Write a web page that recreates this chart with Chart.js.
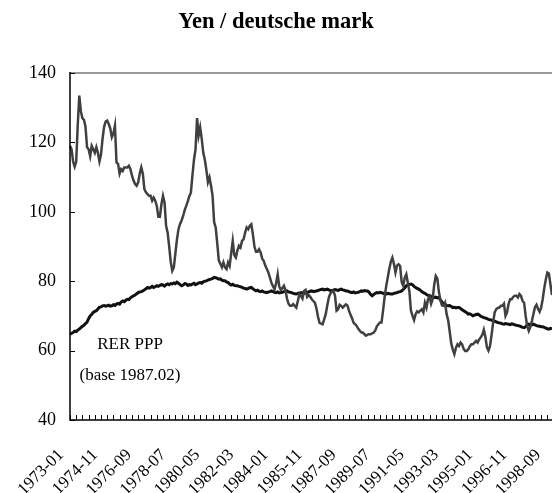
<!DOCTYPE html>
<html>
<head>
<meta charset="utf-8">
<script src="https://cdn.jsdelivr.net/npm/chart.js@4/dist/chart.umd.min.js"></script>
<style>
  html, body { margin: 0; padding: 0; background: #fff; }
  #wrap { width: 552px; height: 493px; }
</style>
</head>
<body>
<div id="wrap"><canvas id="chart" width="552" height="493"></canvas></div>
<script>
// Monthly data, 1973-01 .. 1998-12
const startYear = 1973;
const monthCount = 312;

// Tick labels shown every 22 months
const labelEvery = 22;
const tickEvery = 4;
const yTicks = [40, 60, 80, 100, 120, 140];

// Real exchange rate, yen / deutsche mark
const rerValues = [
  119, 118, 114.5, 113, 114.5, 125, 133.5, 129, 127, 126.5, 124.5, 118.6,
  118, 116, 119, 118, 117, 118.6, 117, 114.5, 116.5, 121, 124.5, 126,
  126.3, 125.3, 124, 121.5, 122.5, 124.8, 114.2, 113.8, 111, 112.3, 111.8, 112.8,
  112.8, 112.8, 113.3, 112.3, 110.4, 109, 108, 107.5, 108.5, 111, 112.8, 111,
  106.5, 105.6, 105.1, 104.6, 104.6, 103.2, 104.1, 103.2, 101.7, 98.6, 98.6, 102.2,
  104.6, 102.7, 96, 94, 90, 85.5, 83, 84, 88, 92, 95, 96.5,
  97.5, 98.8, 100.5, 101.7, 103, 104.5, 105.5, 110.5, 115, 118, 127, 122,
  124.3, 121, 117, 115, 112, 108.5, 109.9, 107.5, 104.5, 97, 95.5, 91,
  86, 85, 84, 85.4, 84, 83.5, 85.4, 84.4, 88, 91.6, 87.5, 86.8,
  88.8, 90.2, 89.7, 91.6, 92.1, 94, 95.5, 95, 96, 96.4, 93.5, 90,
  88.5, 88.5, 89.2, 88.3, 86.5, 85.9, 84.5, 83.5, 82.5, 81, 79.5, 78.5,
  77.7, 79.5, 82, 78.5, 77.5, 78, 78.7, 77.5, 75, 73.5, 72.9, 72.9,
  73.4, 72.9, 72.4, 74.3, 76.3, 75.8, 75, 77.2, 77.5, 75.5, 76, 75.5,
  74.8, 74.3, 73.8, 72.2, 69.8, 68, 67.8, 67.6, 69, 70.5, 73, 75.3,
  76.5, 77, 77.2, 75.8, 71.5, 71.9, 73.2, 72.9, 72.4, 72.9, 73.3, 73,
  71.5, 70.3, 69.3, 68, 67.6, 67.1, 66.3, 65.7, 65.2, 65.2, 64.7, 64.3,
  64.6, 64.7, 64.7, 65, 65.2, 65.8, 67, 67.6, 68.1, 68.1, 71.5, 75.5,
  78.5, 81, 83.5, 85.6, 86.8, 85, 82.5, 84.5, 84.9, 84.4, 79.8, 78.7,
  81, 82, 79.5, 77, 71.5, 70, 68.8, 70.5, 71.3, 71, 71.5, 71.9,
  71, 73.8, 72.4, 74.8, 75.6, 73.5, 74.8, 79, 81.5, 80.8, 77, 74.5,
  73, 72.9, 73.8, 70.5, 68.8, 65.5, 62, 60.3, 59, 60.8, 61.8, 61.3,
  62.3, 61.8, 60.5, 59.9, 59.9, 60.4, 61.3, 61.8, 61.8, 62.3, 62.8, 62.3,
  63.2, 63.8, 64.5, 66, 64, 61, 60, 61.3, 64.5, 68, 71, 71.9,
  72.3, 72.4, 72.9, 72.9, 73.5, 70, 71, 73.5, 74.8, 74.8, 75.5, 75.8,
  75.8, 75.3, 76.3, 75.8, 74.3, 73.8, 70, 67, 65.7, 66.8, 68.5, 70.5,
  72.5, 73.2, 72, 71.2, 72.4, 74.8, 78, 80.5, 82.5, 82.2, 79, 76
];

// PPP rate (base 1987.02)
const pppValues = [
  64.7, 65.0, 65.2, 65.6, 65.5, 65.9, 66.2, 66.6, 67.0, 67.3, 67.8, 68.2,
  69.2, 70.0, 70.4, 71.0, 71.3, 71.5, 72.0, 72.5, 72.6, 72.9, 73.0, 72.8,
  72.9, 73.1, 72.8, 72.9, 73.2, 73.0, 73.4, 73.6, 73.4, 74.0, 74.3, 74.1,
  74.5, 74.8, 74.7, 75.2, 75.5, 75.8, 76.0, 76.4, 76.7, 76.9, 77.0, 77.2,
  77.5, 77.8, 78.2, 78.0, 78.2, 78.5, 78.2, 78.4, 78.7, 78.5, 78.8, 79.0,
  78.9, 78.6, 79.0, 79.2, 79.0, 79.3, 79.2, 79.5, 79.3, 79.7, 79.4, 79.0,
  78.7, 78.9, 79.3, 79.2, 78.8, 79.0, 78.9, 79.2, 79.4, 79.0, 79.2, 79.5,
  79.6, 79.4, 79.8, 80.0, 80.1, 80.3, 80.5, 80.6, 80.8, 81.1, 81.0, 80.8,
  80.6, 80.7, 80.3, 80.1, 80.1, 79.8, 79.6, 79.2, 78.9, 79.1, 78.8, 78.7,
  78.7, 78.5, 78.4, 78.2, 78.0, 77.9, 77.7, 77.9, 78.1, 78.2, 77.8, 77.5,
  77.2, 77.4, 77.1, 77.0, 77.2, 76.9, 76.8, 76.7, 76.9, 77.0, 77.2, 77.0,
  76.8, 76.7, 76.9, 76.6, 76.7, 76.8, 77.0, 77.1, 77.2, 76.9, 76.8, 76.7,
  76.5, 76.4, 76.3, 76.5, 76.6, 76.7, 76.7, 76.5, 76.8, 76.7, 76.9, 77.1,
  77.2, 77.0, 77.1, 77.2, 77.3, 77.5, 77.6, 77.7, 77.5, 77.6, 77.7, 77.5,
  77.3, 77.2, 77.4, 77.6, 77.5, 77.3, 77.6, 77.7, 77.5, 77.4, 77.2, 77.2,
  77.0, 76.8, 76.7, 76.9, 76.6, 76.7, 76.8, 77.0, 77.2, 77.1, 77.3, 77.2,
  77.2, 76.8, 76.2, 75.8, 76.2, 76.5, 76.7, 76.6, 76.8, 76.7, 76.5, 76.6,
  76.3, 76.5, 76.4, 76.3, 76.3, 76.5, 76.6, 76.7, 76.9, 77.0, 77.2, 77.6,
  78.1, 78.7, 78.9, 79.1, 79.2, 79.0, 78.5, 78.2, 77.9, 77.7, 77.4, 77.0,
  76.7, 76.5, 76.2, 75.9, 75.8, 75.6, 75.4, 75.3, 75.4, 75.2, 75.3, 74.6,
  74.0, 73.4, 73.3, 73.0, 72.9, 73.0, 72.7, 72.4, 72.5, 72.3, 72.4, 72.4,
  72.1, 71.8, 71.5, 71.2, 70.9, 70.5, 70.6, 70.3, 70.0, 70.2, 70.4, 70.5,
  70.3, 69.9, 69.7, 69.5, 69.4, 69.2, 69.0, 68.9, 68.8, 68.6, 68.5, 68.3,
  68.1, 68.0, 67.9, 67.7, 67.6, 67.8, 67.7, 67.6, 67.5, 67.7, 67.6, 67.4,
  67.3, 67.2, 67.1, 66.9, 66.7, 66.6, 66.9, 67.3, 67.6, 67.5, 67.4, 67.6,
  67.4, 67.2, 67.1, 67.0, 66.9, 66.9, 66.7, 66.5, 66.3, 66.2, 66.4, 66.3
];

// Build 'YYYY-MM' category labels
const categories = [];
for (let i = 0; i < monthCount; i++) {
    const y = startYear + Math.floor(i / 12);
    const m = (i % 12) + 1;
    categories.push(`${y}-${m < 10 ? '0' + m : m}`);
}

const serif = '"Liberation Serif", "DejaVu Serif", serif';

// Draws the axis lines, inward tick marks, top border and the note text
const axesPlugin = {
    id: 'axesPlugin',
    afterDatasetsDraw(chart) {
        const ctx = chart.ctx;
        const area = chart.chartArea;
        const xs = chart.scales.x;
        const ys = chart.scales.y;
        ctx.save();

        // gray top border
        ctx.strokeStyle = '#999';
        ctx.lineWidth = 2;
        ctx.beginPath();
        ctx.moveTo(area.left, area.top);
        ctx.lineTo(area.right + 2, area.top);
        ctx.stroke();

        ctx.strokeStyle = '#000';
        ctx.lineWidth = 1.5;
        ctx.beginPath();
        ctx.moveTo(area.left, area.top - 1);
        ctx.lineTo(area.left, area.bottom);
        ctx.lineTo(area.right + 2, area.bottom);
        ctx.stroke();

        ctx.lineWidth = 1;
        ctx.beginPath();
        yTicks.forEach(v => {
            const py = Math.round(ys.getPixelForValue(v)) + 0.5;
            ctx.moveTo(area.left, py);
            ctx.lineTo(area.left + 5, py);
        });
        for (let i = 0; i < monthCount; i += tickEvery) {
            const px = Math.round(xs.getPixelForValue(i)) + 0.5;
            ctx.moveTo(px, area.bottom);
            ctx.lineTo(px, area.bottom - 5);
        }
        ctx.stroke();

        // note
        ctx.fillStyle = '#000';
        ctx.font = '17px ' + serif;
        ctx.textAlign = 'center';
        ctx.textBaseline = 'middle';
        ctx.fillText('RER PPP', area.left + 60, 345);
        ctx.fillText('(base 1987.02)', area.left + 60, 376);
        ctx.restore();
    }
};

const ctx = document.getElementById('chart').getContext('2d');
new Chart(ctx, {
    type: 'line',
    data: {
        labels: categories,
        datasets: [{
            label: 'RER',
            data: rerValues,
            borderColor: '#404040',
            borderWidth: 2.5,
            pointRadius: 0,
            tension: 0
        }, {
            label: 'PPP',
            data: pppValues,
            borderColor: '#111',
            borderWidth: 3,
            pointRadius: 0,
            tension: 0
        }]
    },
    options: {
        responsive: false,
        animation: false,
        layout: { padding: { left: 0, right: 0, top: 0, bottom: 0 } },
        plugins: {
            legend: { display: false },
            tooltip: { enabled: false },
            title: {
                display: true,
                text: 'Yen / deutsche mark',
                color: '#000',
                font: { family: serif, size: 22.5, weight: 'bold' },
                padding: { top: 9, bottom: 37 }
            }
        },
        scales: {
            x: {
                type: 'category',
                offset: false,
                border: { display: false },
                grid: { display: false, drawTicks: false },
                ticks: {
                    autoSkip: false,
                    minRotation: 45,
                    maxRotation: 45,
                    padding: 16,
                    color: '#000',
                    font: { family: serif, size: 17 },
                    callback: function(value, index) {
                        // trailing space nudges the rotated label down-left
                        return index % labelEvery === 0 ? categories[index] + '\u2002 ' : '';
                    }
                },
                afterFit: s => {
                    s.height = 73;
                    s.paddingLeft = 0;
                    s.paddingRight = 0;
                }
            },
            y: {
                min: 40,
                max: 140,
                border: { display: false },
                grid: { display: false, drawTicks: false },
                ticks: {
                    stepSize: 20,
                    padding: 14,
                    color: '#000',
                    font: { family: serif, size: 18 }
                },
                afterFit: s => { s.width = 70; }
            }
        }
    },
    plugins: [axesPlugin]
});
</script>
</body>
</html>
